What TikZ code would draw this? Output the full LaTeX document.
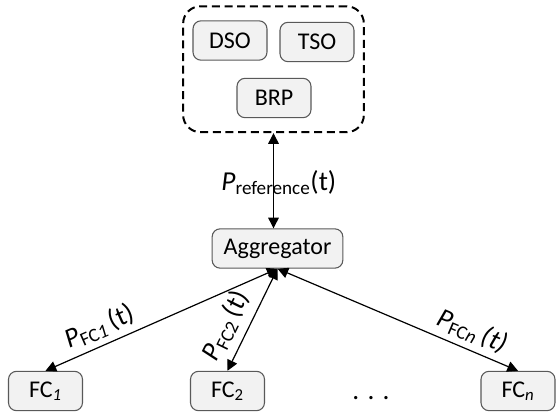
\documentclass[tikz,border=0pt]{standalone}
\usepackage{fontspec}
\setmainfont{Carlito}
\usetikzlibrary{positioning, arrows.meta, fit}

\definecolor{boxfill}{HTML}{F2F2F2}
\definecolor{boxline}{HTML}{595959}

\begin{document}
\begin{tikzpicture}[x=0.75pt, y=-0.75pt]
    % Define styles
    \tikzset{
      unit/.style={rectangle, rounded corners=6pt, draw=boxline, fill=boxfill, line width=0.8pt, minimum width=55.5pt, minimum height=29.5pt, font=\fontsize{18}{21}\selectfont},
      group/.style={draw, dash pattern=on 6pt off 3.5pt, line width=1.5pt, rounded corners=13pt, inner xsep=7pt, inner ysep=10.5pt},
      arrow/.style={line width=0.9pt, {Triangle[length=8pt,width=8pt]}-{Triangle[length=8pt,width=8pt]}},
      flow/.style={font=\fontsize{20.5}{24}\selectfont}
    }
    \useasboundingbox (0,0) rectangle (556,417);

    % Market parties
    \node [unit] (dso) at (230,40.5) {DSO};
    \node [unit] (tso) at (317,42) {TSO};
    \node [unit] (brp) at (274,98) {BRP};
    \node [group, fit=(dso)(tso)(brp)] (parties) {};

    % Aggregator and flexible consumers
    \node [unit, minimum width=98pt] (agg) at (277.5,248.5) {Aggregator};
    \node [unit] (fc1) at (45.5,391) {FC\textsubscript{\textit{1}}};
    \node [unit] (fc2) at (227.5,391) {FC\textsubscript{2}};
    \node [unit] (fcn) at (518,391) {FC\textsubscript{\textit{n}}};
    \node [flow] (dots) at (371,398) {. . .};

    % Arrows
    \draw [arrow] (parties.south) -- node [flow, pos=0.52, xshift=4pt] {\textit{P}\textsubscript{reference}(t)} (parties.south |- agg.north);
    \draw [arrow] (fc1.north) -- node [flow, sloped, above=1pt, pos=0.265] {\textit{P}\textsubscript{FC\textit{1}}\,(t)} (agg.south);
    \draw [arrow] (fc2.north) -- node [flow, sloped, above=3pt, pos=0.35] {\textit{P}\textsubscript{FC2}\,(t)} (agg.south);
    \draw [arrow] (agg.south) -- node [flow, sloped, above=1pt, pos=0.78] {\textit{P}\textsubscript{FC\textit{n}}\,\textit{(t)}} (fcn.north);
\end{tikzpicture}
\end{document}
